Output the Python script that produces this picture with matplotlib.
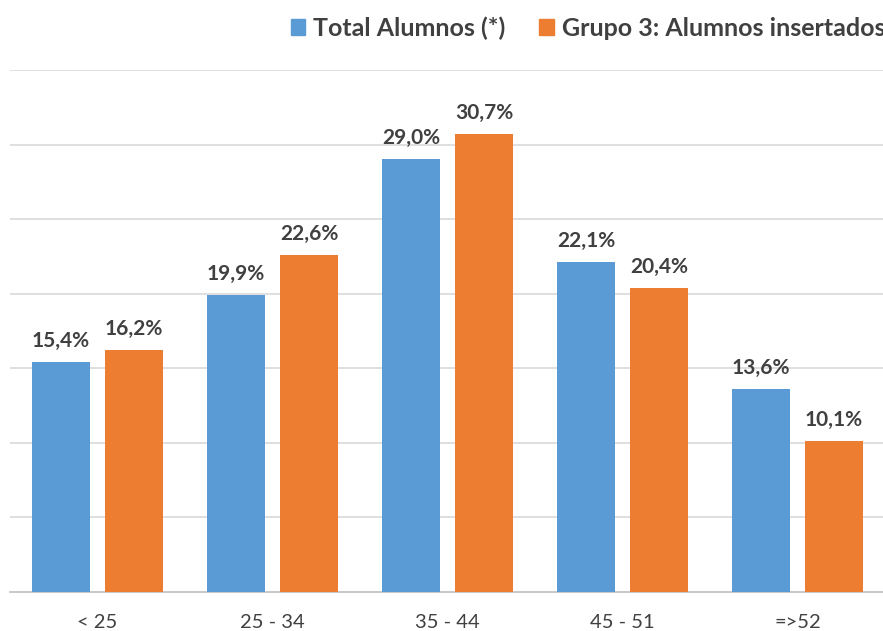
import numpy as np
import matplotlib.pyplot as plt
from matplotlib.patches import Patch

# Data
categories = ["< 25", "25 - 34", "35 - 44", "45 - 51", "=>52"]
total_alumnos = [15.4, 19.9, 29.0, 22.1, 13.6]
grupo3 = [16.2, 22.6, 30.7, 20.4, 10.1]
series_names = ["Total Alumnos (*)", "Grupo 3: Alumnos insertados"]

blue = "#5B9BD5"
orange = "#ED7D31"
text_col = "#404040"
plt.rcParams['font.family'] = ['Lato', 'DejaVu Sans']

fig = plt.figure(figsize=(8.83, 6.31), dpi=100)
ax = fig.add_axes([10 / 883, 39 / 631, 875 / 883, 522 / 631])

x = np.arange(len(categories))
w = 0.33
off = 0.209
b1 = ax.bar(x - off, total_alumnos, w, color=blue, zorder=3)
b2 = ax.bar(x + off, grupo3, w, color=orange, zorder=3)

for bars, vals in [(b1, total_alumnos), (b2, grupo3)]:
    for rect, v in zip(bars, vals):
        ax.annotate(f"{v:.1f}%".replace(".", ","),
                    (rect.get_x() + rect.get_width() / 2, v),
                    xytext=(0, 8), textcoords="offset points",
                    ha="center", va="bottom", fontsize=15,
                    fontweight="bold", color=text_col)

ax.set_xlim(-0.5, 4.5)
ax.set_ylim(0, 35)
ax.set_yticks(np.arange(5, 36, 5))
ax.yaxis.grid(True, color="#D9D9D9", linewidth=1.2, zorder=0)
ax.tick_params(axis="y", left=False, labelleft=False)
ax.set_xticks(x)
ax.set_xticklabels(categories, fontsize=14.5, color=text_col)
ax.tick_params(axis="x", length=0, pad=16)
for s in ["top", "right", "left"]:
    ax.spines[s].set_visible(False)
ax.spines["bottom"].set_color("#BFBFBF")
ax.spines["bottom"].set_linewidth(1.2)

handles = [Patch(color=blue), Patch(color=orange)]
fig.legend(handles, series_names, loc="center left",
           bbox_to_anchor=(281 / 883, 1 - 28 / 631), ncol=2, frameon=False,
           prop={"size": 18, "weight": "bold"}, labelcolor=text_col,
           handlelength=0.57, handleheight=0.57, handletextpad=0.32,
           columnspacing=1.35, borderaxespad=0)

fig.savefig("out.png", dpi=100)
